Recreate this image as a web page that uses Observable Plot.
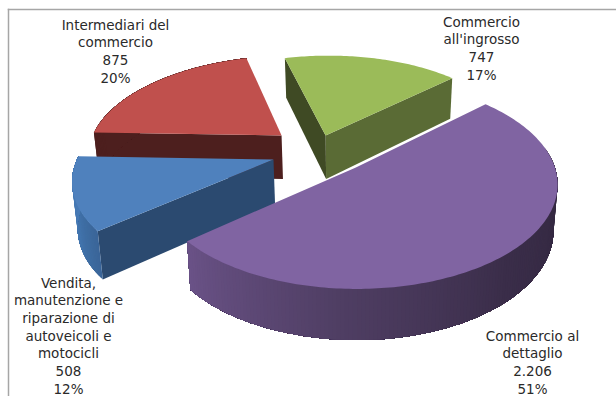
<!DOCTYPE html>
<html>
<head>
<meta charset="utf-8">
<script src="https://cdn.jsdelivr.net/npm/d3@7"></script>
<script src="https://cdn.jsdelivr.net/npm/@observablehq/plot@0.6"></script>
<style>
  html, body { margin: 0; padding: 0; background: #fff; }
  svg { display: block; }
</style>
</head>
<body>
<div id="chart"></div>
<script>
// Imprese del commercio per settore
const categories = [
  "Commercio\nall'ingrosso",
  "Commercio al\ndettaglio",
  "Vendita,\nmanutenzione e\nriparazione di\nautoveicoli e\nmotocicli",
  "Intermediari del\ncommercio"
];
const values = [747, 2206, 508, 875];

// Appearance of each wedge, in the same order as the categories
const topColors = ["#9bbb59", "#8064a2", "#4f81bd", "#c0504d"];
const startFace = ["#3f4a24", null, "#2b4a70", "#4d1f1e"];
const endFace = ["#5a6b35", null, null, null];
const rimStops = [
  ["#5a6b35", "#5a6b35"],
  ["#302640", "#332840", "#3a2d49", "#4f3e63", "#6a5287"],
  ["#3a6598", "#4478b2", "#4a7cb8"],
  ["#4d1f1e", "#4d1f1e"]
];

// Placement of each exploded wedge on the pie's plane, in radii
const offsets = [[-0.137, 0.33], [0.022, 0], [-0.397, 0.079], [-0.37, 0.33]];
const paintOrder = [0, 3, 2, 1];
const labelAt = [[481, 47], [532, 361], [68, 334.5], [115, 50]];

// Camera for the tilted disc
const camera = {cx: 351, cy: 167, a: 199, b: 102, k: 0.16, depth: 45, shrink: 0.98};
const firstAngle = -15.5 * Math.PI / 180;

function project(u, v, lower) {
  const {cx, cy, a, b, k, depth, shrink} = camera;
  const w = 1 + k * v;
  const sx = a * u / w;
  const sy = -b * v / w;
  return lower
    ? {x: cx + sx * shrink, y: cy + sy * shrink + depth / w}
    : {x: cx + sx, y: cy + sy};
}

const total = d3.sum(values);
const arcs = d3.pie().sort(null).startAngle(firstAngle).endAngle(firstAngle + 2 * Math.PI)(values);
const itNumber = d3.formatLocale({decimal: ",", thousands: ".", grouping: [3], currency: ["", " €"]}).format(",d");

const polys = [];
let polyId = 0;
function addPoly(points, color) {
  const id = polyId++;
  for (const p of points) polys.push({...p, id, color});
}

for (const i of paintOrder) {
  const {startAngle: a0, endAngle: a1} = arcs[i];
  const [ou, ov] = offsets[i];
  const rimAt = (t, lower) => project(ou + Math.sin(t), ov + Math.cos(t), lower);
  const apex = lower => project(ou, ov, lower);

  // Cut faces that turn towards the viewer
  if (endFace[i]) addPoly([apex(false), rimAt(a1, false), rimAt(a1, true), apex(true)], endFace[i]);
  if (startFace[i]) addPoly([apex(false), rimAt(a0, false), rimAt(a0, true), apex(true)], startFace[i]);

  // Curved outer wall: each band paints over the rest of the wall, so no seams show
  const n = Math.ceil((a1 - a0) / (1 * Math.PI / 180));
  const shade = d3.piecewise(d3.interpolateRgb, rimStops[i].slice().reverse());
  for (let s = 0; s < n; s++) {
    const t0 = a0 + (a1 - a0) * s / n;
    if (Math.cos(t0) > 0.2 && Math.cos(a0 + (a1 - a0) * (s + 1) / n) > 0.2) continue;
    const band = [];
    for (let j = s; j <= n; j++) band.push(rimAt(a0 + (a1 - a0) * j / n, false));
    for (let j = n; j >= s; j--) band.push(rimAt(a0 + (a1 - a0) * j / n, true));
    addPoly(band, d3.color(shade(1 - (s + 0.5) / n)).formatHex());
  }

  // Top face
  const top = [apex(false)];
  for (let s = 0; s <= n; s++) top.push(rimAt(a0 + (a1 - a0) * s / n, false));
  addPoly(top, topColors[i]);
}

const labels = categories.map((name, i) => ({
  x: labelAt[i][0],
  y: labelAt[i][1],
  text: `${name}\n${itNumber(values[i])}\n${Math.round(values[i] / total * 100)}%`
}));

const chart = Plot.plot({
  width: 616,
  height: 396,
  marginTop: 9,
  marginLeft: 8,
  marginRight: 0,
  marginBottom: 0,
  x: {domain: [8, 616], range: [8, 616], axis: null},
  y: {domain: [9, 396], range: [9, 396], axis: null},
  style: {background: "#fff"},
  marks: [
    Plot.frame({anchor: "top", stroke: "#a6a6a6", strokeWidth: 1.5}),
    Plot.frame({anchor: "left", stroke: "#a6a6a6", strokeWidth: 1.5}),
    Plot.line(polys, {
      x: "x", y: "y", z: "id",
      fill: "color", stroke: null,
      curve: "linear-closed"
    }),
    Plot.text(labels, {
      x: "x", y: "y", text: "text",
      textAnchor: "middle", lineAnchor: "middle", lineHeight: 1.31,
      fontSize: 13.5, fontFamily: "DejaVu Sans", fill: "#2a2a2a"
    })
  ]
});
document.getElementById("chart").append(chart);
</script>
</body>
</html>
